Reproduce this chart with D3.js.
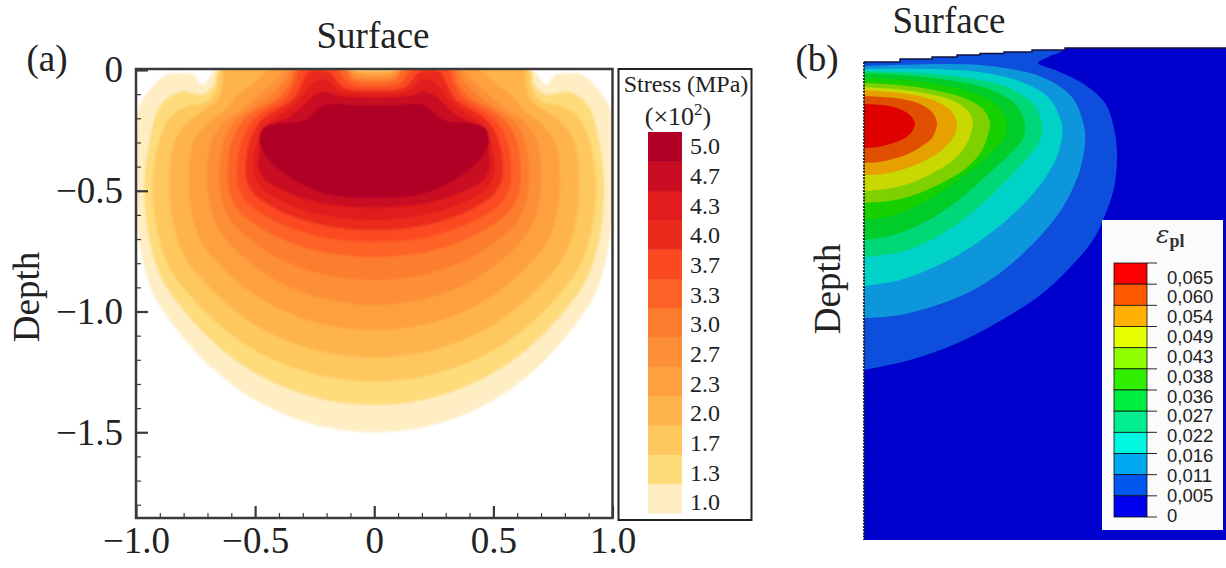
<!DOCTYPE html>
<html>
<head>
<meta charset="utf-8">
<script src="https://cdnjs.cloudflare.com/ajax/libs/d3/7.8.5/d3.min.js"></script>
<style>
  body { margin: 0; background: #fff; }
  svg { display: block; font-family: "Liberation Serif", serif; }
</style>
</head>
<body>
<svg id="chart" width="1226" height="568"></svg>
<script>
// Panel (a): stress levels, legend colours, contour outlines [x, depth] for x >= 0 (mirrored when drawn)
const stressLevels = ["1.0", "1.3", "1.7", "2.0", "2.3", "2.7", "3.0", "3.3", "3.7", "4.0", "4.3", "4.7", "5.0"];
const stressColors = ["#ffedc4", "#fedc7c", "#fec85e", "#feb44c", "#fea03e", "#fd8f38", "#fd7d2e", "#fd6228", "#fb4a24", "#e92a1e", "#e01a1a", "#c90b22", "#b10026"];
const stress10 = [[0,-1.5],[.2,-1.48],[.383,-1.424],[.56,-1.33],[.707,-1.21],[.84,-1.06],[.93,-.92],[.985,-.72],[1.01,-.5],[1.005,-.3],[.993,-.166],[.94,-.08],[.872,-.02],[.8,-.015],[.76,-.02],[.72,-.062],[.685,-.02],[.66,0],[.3,0],[0,0]];
const stress13 = [[0,-1.387],[.193,-1.369],[.37,-1.317],[.54,-1.231],[.682,-1.121],[.81,-.984],[.897,-.855],[.95,-.672],[.965,-.47],[.945,-.3],[.9,-.15],[.817,-.09],[.72,-.1],[.672,-.06],[.655,0],[.3,0],[0,0]];
const stress17 = [[0,-1.29],[.186,-1.273],[.356,-1.227],[.521,-1.149],[.658,-1.049],[.781,-.925],[.865,-.809],[.916,-.643],[.93,-.46],[.905,-.3],[.86,-.2],[.79,-.15],[.7,-.13],[.66,-.07],[.645,0],[.3,0],[0,0]];
const stress20 = [[0,-1.19],[.172,-1.175],[.329,-1.135],[.482,-1.066],[.608,-.978],[.722,-.869],[.8,-.767],[.847,-.621],[.86,-.46],[.84,-.3],[.79,-.22],[.72,-.17],[.655,-.12],[.635,-.05],[.625,0],[.3,0],[0,0]];
const stress23 = [[0,-1.077],[.156,-1.064],[.299,-1.029],[.437,-.97],[.551,-.895],[.655,-.801],[.725,-.713],[.768,-.588],[.78,-.45],[.76,-.3],[.7,-.22],[.63,-.17],[.58,-.11],[.5,-.05],[.44,0],[.09,0],[.06,-.01],[0,-.015]];
const stress27 = [[0,-.973],[.14,-.962],[.268,-.932],[.392,-.882],[.495,-.818],[.588,-.738],[.651,-.664],[.69,-.557],[.7,-.44],[.685,-.3],[.63,-.215],[.56,-.17],[.49,-.11],[.42,-.05],[.37,0],[.105,0],[.07,-.02],[0,-.025]];
const stress30 = [[0,-.87],[.13,-.861],[.249,-.837],[.364,-.797],[.46,-.745],[.546,-.681],[.605,-.621],[.64,-.535],[.65,-.44],[.635,-.3],[.59,-.215],[.52,-.165],[.44,-.11],[.38,-.05],[.345,0],[.115,0],[.085,-.03],[0,-.04]];
const stress33 = [[0,-.774],[.123,-.767],[.236,-.749],[.344,-.717],[.435,-.677],[.517,-.627],[.572,-.58],[.606,-.513],[.615,-.44],[.6,-.3],[.555,-.215],[.49,-.165],[.4,-.115],[.35,-.05],[.33,0],[.125,0],[.09,-.04],[0,-.05]];
const stress37 = [[0,-.712],[.115,-.706],[.22,-.691],[.322,-.664],[.407,-.63],[.483,-.588],[.535,-.548],[.566,-.492],[.575,-.43],[.56,-.3],[.515,-.215],[.45,-.165],[.37,-.115],[.33,-.05],[.31,0],[.16,0],[.11,-.055],[0,-.07]];
const stress40 = [[0,-.663],[.108,-.658],[.207,-.644],[.302,-.62],[.382,-.59],[.454,-.552],[.502,-.516],[.532,-.466],[.54,-.41],[.525,-.3],[.48,-.215],[.42,-.17],[.34,-.12],[.3,-.05],[.275,-.008],[.19,-.008],[.13,-.07],[0,-.085]];
const stress43 = [[0,-.62],[.101,-.616],[.193,-.603],[.283,-.583],[.357,-.556],[.424,-.523],[.47,-.492],[.497,-.448],[.505,-.4],[.49,-.3],[.445,-.22],[.39,-.18],[.32,-.13],[.28,-.08],[.25,-.05],[.2,-.04],[.15,-.085],[0,-.098]];
const stress47 = [[0,-.57],[.097,-.566],[.186,-.556],[.272,-.538],[.343,-.515],[.407,-.486],[.451,-.46],[.478,-.422],[.485,-.38],[.47,-.3],[.42,-.225],[.35,-.19],[.29,-.14],[.25,-.105],[.2,-.09],[.16,-.105],[0,-.115]];
const stress50 = [[0,-.53],[.1,-.527],[.2,-.512],[.3,-.475],[.378,-.427],[.43,-.385],[.462,-.344],[.483,-.29],[.46,-.235],[.29,-.207],[.21,-.145],[.1,-.145],[0,-.145]];
const stressContours = [stress10, stress13, stress17, stress20, stress23, stress27, stress30, stress33, stress37, stress40, stress43, stress47, stress50];
const xMajor = [-1, -0.5, 0, 0.5, 1];
const xMinor = [-.9, -.8, -.7, -.6, -.4, -.3, -.2, -.1, .1, .2, .3, .4, .6, .7, .8, .9];
const yMajor = [0, -0.5, -1, -1.5];
const yMinor = [-.1, -.2, -.3, -.4, -.6, -.7, -.8, -.9, -1.1, -1.2, -1.3, -1.4, -1.6, -1.7, -1.8];

// Panel (b): plastic strain legend, filled contours (model units, x from the axis, y down from the top)
const strainTicks = ["0,065", "0,060", "0,054", "0,049", "0,043", "0,038", "0,036", "0,027", "0,022", "0,016", "0,011", "0,005", "0"];
const strainLegendColors = ["#ff0000", "#ff5a00", "#ffb000", "#e8ff00", "#90ff00", "#30f000", "#00ee40", "#00ee90", "#00f8e0", "#00a8f0", "#0058f0", "#0000ee"];
const strainFieldColors = ["#0a50dc", "#0a96dc", "#00d2c8", "#00d878", "#00cc2a", "#14d000", "#7ed000", "#c8d800", "#e6a000", "#e05000", "#e00000"];
const surfaceEdge = [[0,.14],[.36,.11],[.68,.09],[.93,.07],[1.16,.055],[1.4,.04],[1.68,.02],[2.01,0],[3.62,0]];
const strain1 = [[0,3.22],[.46,3.12],[.96,2.94],[1.46,2.67],[1.79,2.45],[2.13,2.12],[2.29,1.92],[2.39,1.72],[2.5,1.4],[2.53,1.1],[2.51,.85],[2.41,.55],[2.18,.35],[1.91,.22],[1.74,.15],[1.84,.09],[2.01,.01],[2.01,-.05],[1,0],[0,.05]];
const strain2 = [[0,2.7],[.36,2.67],[.79,2.55],[1.13,2.4],[1.46,2.17],[1.79,1.85],[1.99,1.59],[2.15,1.25],[2.21,.95],[2.2,.78],[2.08,.49],[1.78,.29],[1.34,.19],[.91,.16],[0,.18]];
const strain3 = [[0,2.38],[.36,2.32],[.79,2.15],[1.13,1.95],[1.46,1.69],[1.74,1.4],[1.9,1.15],[1.97,.95],[1.98,.77],[1.85,.5],[1.55,.33],[1.15,.24],[.7,.21],[0,.21]];
const strain4 = [[0,2.09],[.36,2.04],[.63,1.94],[.96,1.74],[1.19,1.55],[1.45,1.3],[1.65,1.08],[1.76,.92],[1.78,.77],[1.7,.57],[1.45,.4],[1.05,.3],[.55,.25],[0,.23]];
const strain5 = [[0,1.92],[.3,1.87],[.63,1.73],[.92,1.54],[1.2,1.3],[1.45,1.07],[1.59,.9],[1.61,.77],[1.53,.58],[1.3,.43],[.97,.34],[.5,.28],[0,.25]];
const strain6 = [[0,1.72],[.3,1.67],[.6,1.54],[.85,1.38],[1.1,1.2],[1.3,1.02],[1.41,.88],[1.43,.77],[1.36,.61],[1.15,.47],[.83,.38],[.4,.32],[0,.3]];
const strain7 = [[0,1.55],[.25,1.53],[.5,1.47],[.76,1.36],[1.01,1.21],[1.17,1.04],[1.24,.87],[1.26,.75],[1.19,.61],[1,.5],[.7,.42],[.35,.37],[0,.35]];
const strain8 = [[0,1.43],[.22,1.41],[.44,1.36],[.65,1.27],[.87,1.14],[1.01,.99],[1.07,.85],[1.09,.74],[1.03,.62],[.87,.52],[.6,.45],[.3,.41],[0,.39]];
const strain9 = [[0,1.27],[.19,1.26],[.37,1.22],[.56,1.15],[.74,1.05],[.86,.94],[.92,.83],[.93,.76],[.88,.64],[.74,.54],[.5,.47],[.25,.44],[0,.42]];
const strain10 = [[0,1.15],[.15,1.14],[.29,1.11],[.44,1.06],[.58,.98],[.68,.9],[.72,.81],[.73,.74],[.68,.64],[.56,.56],[.38,.51],[.18,.49],[0,.48]];
const strain11 = [[0,1],[.1,.994],[.2,.977],[.31,.945],[.41,.9],[.47,.85],[.5,.8],[.51,.76],[.47,.68],[.38,.62],[.25,.58],[.12,.565],[0,.56]];
const strainContours = [strain1, strain2, strain3, strain4, strain5, strain6, strain7, strain8, strain9, strain10, strain11];

const svg = d3.select("#chart");
const defs = svg.append("defs");
defs.append("filter").attr("id", "soft").append("feGaussianBlur").attr("stdDeviation", 1.1);
defs.append("filter").attr("id", "softer").append("feGaussianBlur").attr("stdDeviation", 0.5);

// ---------- panel (a) ----------
const x = d3.scaleLinear().domain([-1, 1]).range([136, 612.5]);
const y = d3.scaleLinear().domain([0, -1.855]).range([70, 518]);

defs.append("clipPath").attr("id", "clipA").append("rect")
  .attr("x", x(-1)).attr("y", y(0))
  .attr("width", x(1) - x(-1)).attr("height", y(-1.855) - y(0));

const contourLine = d3.line()
  .curve(d3.curveCatmullRomClosed.alpha(0.5))
  .x((d) => x(d[0]))
  .y((d) => y(d[1]));

// right half plus its mirror image, skipping the points on the centre line
const mirrored = (half) =>
  half.concat(half.filter((d) => d[0] !== 0).reverse().map((d) => [-d[0], d[1]]));

svg.append("g")
  .attr("clip-path", "url(#clipA)")
  .append("g")
  .attr("filter", "url(#soft)")
  .selectAll("path")
  .data(stressContours)
  .enter()
  .append("path")
  .attr("d", (d) => contourLine(mirrored(d)))
  .attr("fill", (d, i) => stressColors[i]);

const axisColor = "#3a3a3a";
function styleAxis(g, labelSize) {
  g.select(".domain").remove();
  g.selectAll("line").attr("stroke", axisColor);
  g.selectAll("text").attr("font-family", "Liberation Serif").attr("font-size", labelSize).attr("fill", "#222");
}
const fmt = (d) => (d === 0 ? "0" : d3.format(".1f")(d).replace("-", "\u2212"));

svg.append("g").attr("transform", `translate(${x(-1)},0)`)
  .call(d3.axisLeft(y).tickValues(yMinor).tickSize(-5).tickFormat(""))
  .call(styleAxis, 0).selectAll("line").attr("stroke-width", 1.2);
svg.append("g").attr("transform", `translate(${x(-1)},0)`)
  .call(d3.axisLeft(y).tickValues(yMajor).tickSize(-12).tickPadding(13).tickFormat(fmt))
  .call(styleAxis, 37).selectAll("line").attr("stroke-width", 2.2);
svg.append("g").attr("transform", `translate(0,${y(-1.855)})`)
  .call(d3.axisBottom(x).tickValues(xMinor).tickSize(-5).tickFormat(""))
  .call(styleAxis, 0).selectAll("line").attr("stroke-width", 1.2);
svg.append("g").attr("transform", `translate(0,${y(-1.855)})`)
  .call(d3.axisBottom(x).tickValues(xMajor).tickSize(-12).tickPadding(9).tickFormat(fmt))
  .call(styleAxis, 37).selectAll("line").attr("stroke-width", 2.2);

svg.append("rect")
  .attr("x", x(-1)).attr("y", y(0) - 1)
  .attr("width", x(1) - x(-1)).attr("height", y(-1.855) - y(0) + 1)
  .attr("fill", "none").attr("stroke", axisColor).attr("stroke-width", 2.5);

function label(text, px, py, size, anchor = "middle") {
  return svg.append("text").attr("x", px).attr("y", py)
    .attr("font-size", size).attr("text-anchor", anchor).attr("fill", "#222").text(text);
}
label("Surface", 373, 48, 37);
label("(a)", 47, 71, 37);
svg.append("text").attr("transform", "translate(39,297) rotate(-90)")
  .attr("font-size", 37).attr("text-anchor", "middle").attr("fill", "#222").text("Depth");

// stress legend
svg.append("rect").attr("x", 618.5).attr("y", 69).attr("width", 133).attr("height", 451)
  .attr("fill", "none").attr("stroke", "#222").attr("stroke-width", 2);
label("Stress (MPa)", 686, 92, 24);
const powerLabel = label("(\u00d710", 678, 125, 26);
powerLabel.append("tspan").attr("dy", -10).attr("font-size", 17).text("2");
powerLabel.append("tspan").attr("dy", 10).text(")");

const legendOrder = stressLevels.slice().reverse();
const legendBand = d3.scaleBand().domain(legendOrder).range([132, 513]);
const legendLabel = d3.scalePoint().domain(legendOrder).range([146.5, 502.5]);
svg.append("g").attr("filter", "url(#softer)")
  .selectAll("rect").data(stressLevels).enter().append("rect")
  .attr("x", 648).attr("width", 34)
  .attr("y", (d) => legendBand(d)).attr("height", legendBand.bandwidth() + 0.5)
  .attr("fill", (d, i) => stressColors[i]);
svg.append("g").selectAll("text").data(legendOrder).enter().append("text")
  .attr("x", 690).attr("y", (d) => legendLabel(d)).attr("dy", "0.33em")
  .attr("font-size", 24).attr("fill", "#222").text((d) => d);

// ---------- panel (b) ----------
const xB = d3.scaleLinear().domain([0, 3.62]).range([864, 1226]);
const yB = d3.scaleLinear().domain([0, 4.92]).range([48, 540]);

const edgeLine = d3.line().curve(d3.curveStepAfter).x((d) => xB(d[0])).y((d) => yB(d[1]));
const fieldOutline = surfaceEdge.concat([[3.62, 4.92], [0, 4.92]]);
defs.append("clipPath").attr("id", "clipB").append("path")
  .attr("d", edgeLine(surfaceEdge) + `L${xB(3.62)},${yB(4.92)}L${xB(0)},${yB(4.92)}Z`);

const fieldGroup = svg.append("g").attr("clip-path", "url(#clipB)").append("g").attr("filter", "url(#softer)");
fieldGroup.append("path")
  .attr("d", d3.line().x((d) => xB(d[0])).y((d) => yB(d[1]))(fieldOutline.concat([[0, -0.1], [3.62, -0.1]])))
  .attr("fill", "#0000cc");
const strainLine = d3.line()
  .curve(d3.curveCatmullRom.alpha(0.5))
  .x((d) => xB(d[0]))
  .y((d) => yB(d[1]));
fieldGroup.selectAll("path.band").data(strainContours).enter().append("path")
  .attr("class", "band")
  .attr("d", (d) => strainLine(d) + "Z")
  .attr("fill", (d, i) => strainFieldColors[i]);

svg.append("path").attr("d", edgeLine(surfaceEdge))
  .attr("fill", "none").attr("stroke", "#101040").attr("stroke-width", 1.4);
svg.append("line").attr("x1", xB(0)).attr("x2", xB(0)).attr("y1", yB(0.14)).attr("y2", yB(4.92))
  .attr("stroke", "#222").attr("stroke-width", 2).attr("stroke-dasharray", "2 1.2");

label("Surface", 949, 33, 37);
label("(b)", 817, 71, 37);
svg.append("text").attr("transform", "translate(840,289) rotate(-90)")
  .attr("font-size", 37).attr("text-anchor", "middle").attr("fill", "#222").text("Depth");

// strain legend
svg.append("rect").attr("x", 1102).attr("y", 220).attr("width", 121).attr("height", 310).attr("fill", "#fbfbfb");
const strainBand = d3.scaleBand().domain(strainLegendColors).range([263, 517]);
svg.append("g").selectAll("rect").data(strainLegendColors).enter().append("rect")
  .attr("x", 1114).attr("width", 33)
  .attr("y", (d) => strainBand(d)).attr("height", strainBand.bandwidth())
  .attr("fill", (d) => d).attr("stroke", "#111").attr("stroke-width", 0.8);
const strainTickPos = d3.scalePoint().domain(strainTicks).range([263, 517]);
const strainLabelPos = d3.scalePoint().domain(strainTicks).range([277, 515]);
svg.append("g").selectAll("line").data(strainTicks).enter().append("line")
  .attr("x1", 1147).attr("x2", 1157)
  .attr("y1", (d) => strainTickPos(d)).attr("y2", (d) => strainTickPos(d))
  .attr("stroke", "#111").attr("stroke-width", 0.9);
svg.append("g").selectAll("text").data(strainTicks).enter().append("text")
  .attr("x", 1167).attr("y", (d) => strainLabelPos(d)).attr("dy", "0.36em")
  .attr("font-family", "Liberation Sans").attr("font-size", 18.5).attr("fill", "#222").text((d) => d);

const epsLabel = svg.append("text").attr("x", 1156).attr("y", 243).attr("fill", "#333");
epsLabel.append("tspan").attr("font-size", 25).attr("font-style", "italic").attr("font-family", "DejaVu Serif").text("\u03b5");
epsLabel.append("tspan").attr("font-size", 18).attr("font-weight", "bold").attr("dy", 4).text("pl");
</script>
</body>
</html>
